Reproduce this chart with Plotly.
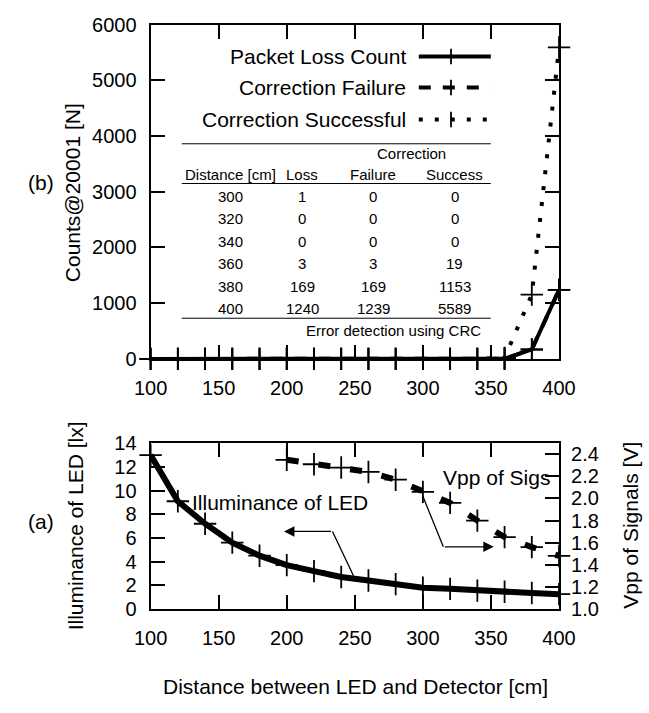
import plotly.graph_objects as go

# ---------------- data ----------------
distance = [100, 120, 140, 160, 180, 200, 220, 240, 260, 280, 300, 320, 340, 360, 380, 400]
packet_loss = [0, 0, 0, 0, 0, 0, 0, 0, 0, 0, 1, 0, 0, 3, 169, 1240]
corr_failure = [0, 0, 0, 0, 0, 0, 0, 0, 0, 0, 0, 0, 0, 3, 169, 1239]
corr_success = [0, 0, 0, 0, 0, 0, 0, 0, 0, 0, 0, 0, 0, 19, 1153, 5589]

illuminance = [13.0, 9.1, 7.2, 5.6, 4.5, 3.7, 3.2, 2.7, 2.4, 2.1, 1.8, 1.7, 1.55, 1.45, 1.35, 1.25]
vpp_distance = [200, 220, 240, 260, 280, 300, 320, 340, 360, 380, 400]
vpp_signals = [2.35, 2.31, 2.28, 2.24, 2.17, 2.06, 1.96, 1.80, 1.65, 1.56, 1.48]

table_first = 10  # table lists distances from 300 cm on
legend_names = ["Packet Loss Count", "Correction Failure", "Correction Successful"]

# ---------------- geometry helpers ----------------
W, H = 649, 713
def px(x):
    return x / W
def py(y):
    return 1 - y / H

FONT = "Liberation Sans, Arial, sans-serif"
TICKFONT = dict(family=FONT, size=20, color="black")
LBL = dict(family=FONT, size=21, color="black")

X0, X1 = 141, 572
TOP_T, TOP_B = 14, 359
BOT_T, BOT_B = 446, 617

fig = go.Figure()

marker = dict(symbol="cross-thin", size=16, line=dict(width=1.8, color="black"), color="black")

dash_fail = "12px,12px"
dash_succ = "4px,12px"

fig.add_trace(go.Scatter(x=distance, y=packet_loss, mode="lines+markers", xaxis="x", yaxis="y",
                         line=dict(color="black", width=4), marker=marker, cliponaxis=False,
                         name=legend_names[0], showlegend=False))
fig.add_trace(go.Scatter(x=distance, y=corr_failure, mode="lines+markers", xaxis="x", yaxis="y",
                         line=dict(color="black", width=4, dash=dash_fail), marker=marker, cliponaxis=False,
                         name=legend_names[1], showlegend=False))
fig.add_trace(go.Scatter(x=distance, y=corr_success, mode="lines+markers", xaxis="x", yaxis="y",
                         line=dict(color="black", width=4, dash=dash_succ), marker=marker, cliponaxis=False,
                         name=legend_names[2], showlegend=False))

fig.add_trace(go.Scatter(x=distance, y=illuminance, mode="lines+markers", xaxis="x2", yaxis="y2",
                         line=dict(color="black", width=6), marker=marker, cliponaxis=False,
                         name="Illuminance of LED", showlegend=False))
fig.add_trace(go.Scatter(x=vpp_distance, y=vpp_signals, mode="lines+markers", xaxis="x2", yaxis="y3",
                         line=dict(color="black", width=6, dash="12px,20px"), marker=marker, cliponaxis=False,
                         name="Vpp of Sigs", showlegend=False))

axis_common = dict(showgrid=False, zeroline=False, showline=True, linecolor="black", linewidth=2,
                   ticks="inside", ticklen=14, tickwidth=1.5, tickcolor="black", tickfont=TICKFONT)

fig.update_layout(
    width=W, height=H,
    margin=dict(l=0, r=0, t=0, b=0),
    paper_bgcolor="white", plot_bgcolor="white",
    showlegend=False,
    xaxis=dict(domain=[px(X0), px(X1)], anchor="y", range=[100, 400], dtick=50, mirror="ticks",
               ticklabelstandoff=10, **axis_common),
    yaxis=dict(domain=[py(TOP_B), py(TOP_T)], anchor="x", range=[0, 6000], dtick=1000, mirror="ticks",
               ticklabelstandoff=8, **axis_common),
    xaxis2=dict(domain=[px(X0), px(X1)], anchor="y2", range=[100, 400], dtick=50, mirror="ticks",
                ticklabelstandoff=10, **axis_common),
    yaxis2=dict(domain=[py(BOT_B), py(BOT_T)], anchor="x2", range=[0, 14], dtick=2,
                ticklabelstandoff=8, **axis_common),
    yaxis3=dict(overlaying="y2", side="right", anchor="x2", range=[1.0, 2.5],
                tickvals=[1.0, 1.2, 1.4, 1.6, 1.8, 2.0, 2.2, 2.4], tickformat=".1f",
                ticklabelstandoff=6, **axis_common),
)

ann = []
shapes = []

# axis titles and panel labels
ann.append(dict(text="Counts@20001 [N]", x=px(58), y=py(187), xref="paper", yref="paper",
                textangle=-90, showarrow=False, font=LBL, xanchor="center", yanchor="middle"))
ann.append(dict(text="(b)", x=px(25), y=py(177), xref="paper", yref="paper",
                showarrow=False, font=LBL, xanchor="center", yanchor="middle"))
ann.append(dict(text="(a)", x=px(25), y=py(527), xref="paper", yref="paper",
                showarrow=False, font=LBL, xanchor="center", yanchor="middle"))
ann.append(dict(text="Illuminance of LED [lx]", x=px(62), y=py(531), xref="paper", yref="paper",
                textangle=-90, showarrow=False, font=LBL, xanchor="center", yanchor="middle"))
ann.append(dict(text="Vpp of Signals [V]", x=px(648), y=py(531), xref="paper", yref="paper",
                textangle=-90, showarrow=False, font=LBL, xanchor="center", yanchor="middle"))
ann.append(dict(text="Distance between LED and Detector [cm]", x=px(357), y=py(697), xref="paper",
                yref="paper", showarrow=False, font=LBL, xanchor="center", yanchor="middle"))

# manual legend (text right-aligned, sample on the right)
leg_y = [47, 79, 112]
leg_dash = [None, dash_fail, dash_succ]
leg_w = [4, 4, 4]
for name, yy, dsh, lw in zip(legend_names, leg_y, leg_dash, leg_w):
    ann.append(dict(text=name, x=px(413), y=py(yy), xref="paper", yref="paper", showarrow=False,
                    font=LBL, xanchor="right", yanchor="middle"))
    line = dict(color="black", width=lw)
    if dsh:
        line["dash"] = dsh
    shapes.append(dict(type="line", xref="paper", yref="paper", x0=px(424), x1=px(500),
                       y0=py(yy), y1=py(yy), line=line))
    shapes.append(dict(type="line", xref="paper", yref="paper", x0=px(458), x1=px(458),
                       y0=py(yy - 8), y1=py(yy + 8), line=dict(color="black", width=1.8)))

# table inside top plot
TF = dict(family=FONT, size=15, color="black")
for yy in [137, 178, 317]:
    shapes.append(dict(type="line", xref="paper", yref="paper", x0=px(174), x1=px(500),
                       y0=py(yy), y1=py(yy), line=dict(color="black", width=1)))
col_x = [225, 301, 376, 462]
ann.append(dict(text="Correction", x=px(416), y=py(147), xref="paper", yref="paper",
                showarrow=False, font=TF, xanchor="center", yanchor="middle"))
for txt, cx in zip(["Distance [cm]", "Loss", "Failure", "Success"], col_x):
    ann.append(dict(text=txt, x=px(cx), y=py(169), xref="paper", yref="paper",
                    showarrow=False, font=TF, xanchor="center", yanchor="middle"))
row_y = [191.5, 214.5, 237.5, 260.5, 284, 307]
for i, ry in zip(range(table_first, len(distance)), row_y):
    vals = [distance[i], packet_loss[i], corr_failure[i], corr_success[i]]
    for v, cx in zip(vals, col_x):
        ann.append(dict(text=str(v), x=px(cx), y=py(ry), xref="paper", yref="paper",
                        showarrow=False, font=TF, xanchor="center", yanchor="middle"))
ann.append(dict(text="Error detection using CRC", x=px(492), y=py(330), xref="paper", yref="paper",
                showarrow=False, font=TF, xanchor="right", yanchor="middle"))

# bottom plot labels and arrows
ann.append(dict(text="Illuminance of LED", x=129, y=9.0, xref="x2", yref="y2", showarrow=False,
                font=LBL, xanchor="left", yanchor="middle"))
ann.append(dict(text="Vpp of Sigs", x=313, y=11.1, xref="x2", yref="y2", showarrow=False,
                font=LBL, xanchor="left", yanchor="middle"))
shapes.append(dict(type="line", xref="x2", yref="y2", x0=249, y0=2.8, x1=233.6, y1=6.55,
                   line=dict(color="black", width=1.3)))
ann.append(dict(text="", x=198, y=6.55, ax=233.6, ay=6.55, xref="x2", yref="y2", axref="x2", ayref="y2",
                showarrow=True, arrowhead=2, arrowsize=1.6, arrowwidth=1.3, arrowcolor="black"))
shapes.append(dict(type="line", xref="x2", yref="y2", x0=299.7, y0=9.6, x1=315, y1=5.25,
                   line=dict(color="black", width=1.3)))
ann.append(dict(text="", x=352, y=5.25, ax=315, ay=5.25, xref="x2", yref="y2", axref="x2", ayref="y2",
                showarrow=True, arrowhead=2, arrowsize=1.6, arrowwidth=1.3, arrowcolor="black"))

fig.update_layout(annotations=ann, shapes=shapes)
fig.write_html("out.html")
